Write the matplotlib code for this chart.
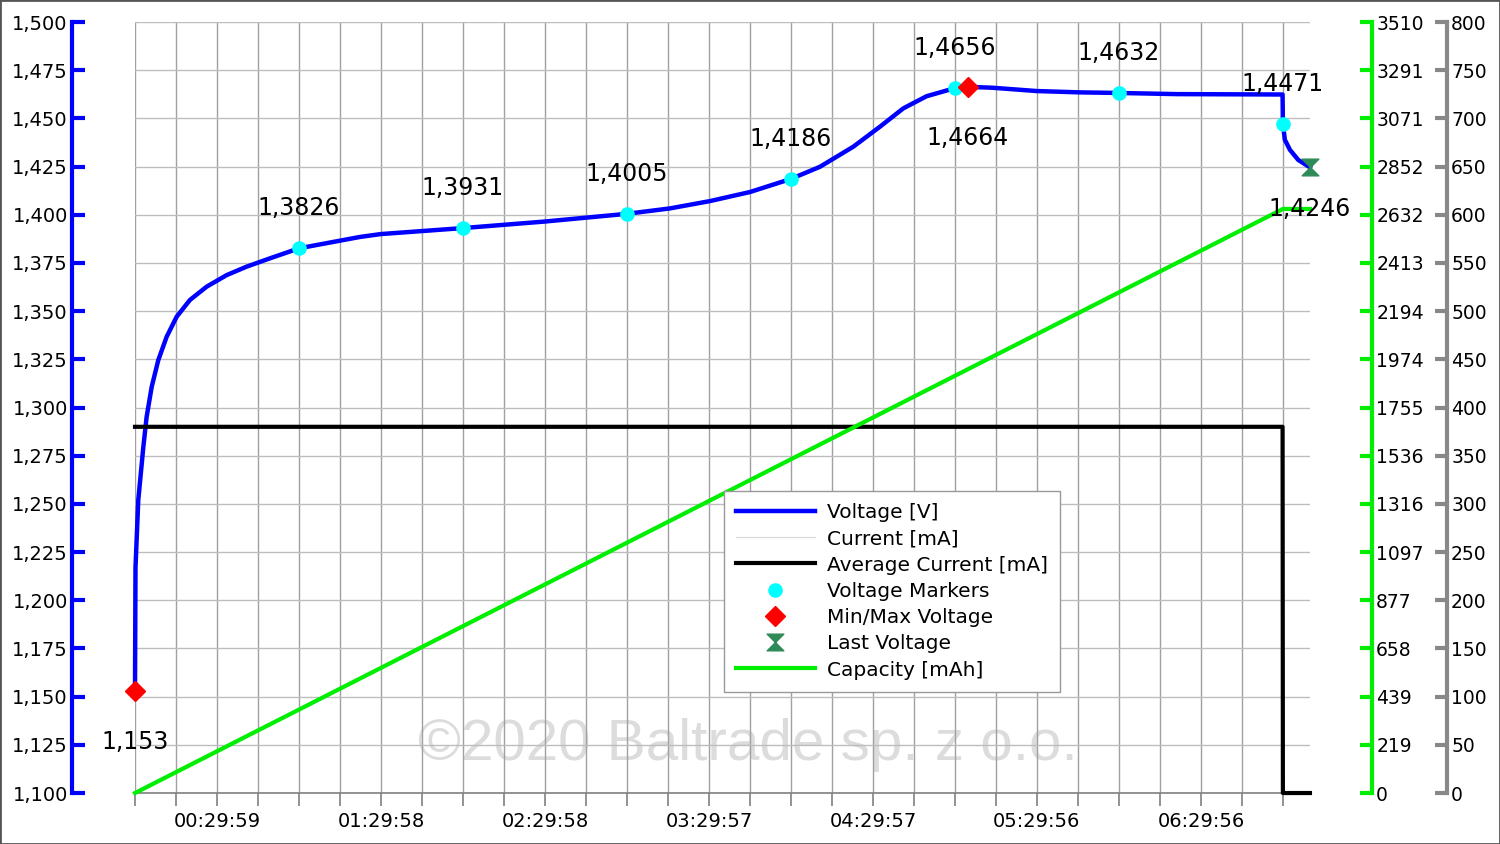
import matplotlib
matplotlib.use('Agg')
import matplotlib.pyplot as plt
import matplotlib.ticker as mticker
from matplotlib.path import Path
from matplotlib.patches import Rectangle
import numpy as np

# time in hours since start
volt_t = [0, 0.003, 0.02, 0.051, 0.071, 0.102, 0.142, 0.193, 0.254, 0.335, 0.437, 0.559, 0.681,
          0.823, 1.0, 1.372, 1.5, 2.0, 2.5, 3.0, 3.262, 3.506, 3.75, 4.0, 4.177, 4.38, 4.543,
          4.685, 4.827, 4.996, 5.079, 5.23, 5.498, 5.762, 6.0, 6.352, 6.998, 7.0, 7.012, 7.043,
          7.093, 7.165]
volts = [1.153, 1.217, 1.252, 1.2797, 1.2952, 1.3108, 1.3246, 1.3367, 1.3471, 1.3558, 1.3627,
         1.3687, 1.3731, 1.3774, 1.3826, 1.3885, 1.3900, 1.3931, 1.3965, 1.4005, 1.4033, 1.4071,
         1.4118, 1.4186, 1.4249, 1.4353, 1.4457, 1.4552, 1.4615, 1.4656, 1.4664, 1.4659, 1.4642,
         1.4635, 1.4632, 1.4626, 1.4624, 1.4471, 1.4389, 1.4337, 1.4285, 1.4246]

cur_t = [0, 6.998, 7.0, 7.165]
current = [380, 380, 0, 0]
avg_current = [380, 380, 0, 0]

cap_t = [0, 7.0, 7.165]
capacity = [0, 2659, 2659]

marker_t = [1, 2, 3, 4, 5, 6, 7]
marker_v = [1.3826, 1.3931, 1.4005, 1.4186, 1.4656, 1.4632, 1.4471]
minmax_t = [0, 5.079]
minmax_v = [1.153, 1.4664]
minmax_txt = ['1,153', '1,4664']
last_t = 7.165
last_v = 1.4246

label_times = [0.5, 1.5, 2.5, 3.5, 4.5, 5.5, 6.5]
time_labels = ['00:29:59', '01:29:58', '02:29:58', '03:29:57', '04:29:57', '05:29:56', '06:29:56']
grid_times = np.arange(0, 7.01, 0.25)

volt_ticks = np.linspace(1.1, 1.5, 17)
cap_ticks = np.linspace(0, 3510, 17)
cap_labels = ['0', '219', '439', '658', '877', '1097', '1316', '1536', '1755', '1974',
              '2194', '2413', '2632', '2852', '3071', '3291', '3510']
cur_ticks = np.arange(0, 801, 50)

BLUE = '#0000ff'
GREEN = '#00ee00'
GRAY = '#888888'

fig = plt.figure(figsize=(15, 8.44), dpi=100)
ax = fig.add_axes([0.09, 0.0604, 0.7833, 0.9135])
ax_cur = ax.twinx()
ax_cap = ax.twinx()

# voltage axis
ax.set_xlim(0, 7.165)
ax.set_ylim(1.1, 1.5)
ax.set_yticks(volt_ticks)
ax.yaxis.set_major_formatter(mticker.FuncFormatter(lambda v, p: f'{v:.3f}'.replace('.', ',')))
ax.set_xticks(label_times)
ax.set_xticklabels(time_labels)
ax.set_xticks(grid_times, minor=True)
ax.grid(True, axis='x', which='both', color='#a0a0a0', lw=1)
ax.grid(True, axis='y', which='major', color='#bdbdbd', lw=1)
ax.spines['top'].set_visible(False)
ax.spines['right'].set_visible(False)
ax.spines['left'].set_position(('axes', -0.0536))
ax.spines['left'].set_color(BLUE)
ax.spines['left'].set_linewidth(3)
ax.spines['bottom'].set_color('#808080')
ax.spines['bottom'].set_linewidth(1.2)
ax.tick_params(axis='y', direction='in', length=9, width=3, color=BLUE, labelsize=14, pad=3)
ax.tick_params(axis='x', which='both', direction='out', length=9, width=1.2, color='#808080',
               labelsize=14, pad=5)

for a, pos, col, ticks in [(ax_cur, 1.1166, GRAY, cur_ticks), (ax_cap, 1.0528, GREEN, cap_ticks)]:
    for s in ['left', 'top', 'bottom']:
        a.spines[s].set_visible(False)
    a.spines['right'].set_position(('axes', pos))
    a.spines['right'].set_color(col)
    a.spines['right'].set_linewidth(3)
    a.set_yticks(ticks)
    a.tick_params(axis='y', direction='in', length=9, width=3, color=col, labelsize=13.5, pad=3)

ax_cur.set_ylim(0, 800)
ax_cap.set_ylim(0, 3510)
ax_cap.set_yticklabels(cap_labels)

# watermark
ax.text(0.5217, 0.062, '\u00a92020 Baltrade sp. z o.o.', transform=ax.transAxes,
        ha='center', va='center', fontsize=42, color='#dcdcdc', zorder=0,
        family=['Liberation Sans', 'DejaVu Sans'])

# series
hourglass = Path([(-1, 1), (1, 1), (-1, -1), (1, -1), (-1, 1)],
                 [Path.MOVETO, Path.LINETO, Path.LINETO, Path.LINETO, Path.CLOSEPOLY])

l_volt, = ax.plot(volt_t, volts, color=BLUE, lw=3.2, zorder=3, clip_on=False,
                  solid_joinstyle='round', label='Voltage [V]')
m_volt, = ax.plot(marker_t, marker_v, 'o', color='cyan', ms=9.5, zorder=4, clip_on=False,
                  label='Voltage Markers')
m_mm, = ax.plot(minmax_t, minmax_v, 'D', color='red', ms=10, zorder=5, clip_on=False,
                label='Min/Max Voltage')
m_last, = ax.plot([last_t], [last_v], ls='none', marker=hourglass, color='#2e8b57', ms=12,
                  zorder=5, clip_on=False, label='Last Voltage')

l_cur, = ax_cur.plot(cur_t, current, color='#d8d8d8', lw=0.8, clip_on=False, label='Current [mA]')
l_avg, = ax_cur.plot(cur_t, avg_current, color='black', lw=3, clip_on=False,
                     label='Average Current [mA]')
l_cap, = ax_cap.plot(cap_t, capacity, color=GREEN, lw=3, clip_on=False, label='Capacity [mAh]')

# value labels
for t, v in zip(marker_t, marker_v):
    ax_cap.annotate(f'{v:.4f}'.replace('.', ','), xy=(t, v), xycoords=ax.transData,
                    xytext=(0, 40), textcoords='offset pixels', ha='center', va='center',
                    fontsize=17, annotation_clip=False)
for t, v, s in zip(minmax_t, minmax_v, minmax_txt):
    ax_cap.annotate(s, xy=(t, v), xycoords=ax.transData, xytext=(0, -51),
                    textcoords='offset pixels', ha='center', va='center', fontsize=17,
                    annotation_clip=False)
ax_cap.annotate(f'{last_v:.4f}'.replace('.', ','), xy=(last_t, last_v), xycoords=ax.transData,
                xytext=(0, -42), textcoords='offset pixels', ha='center', va='center',
                fontsize=17, annotation_clip=False)

handles = [l_volt, l_cur, l_avg, m_volt, m_mm, m_last, l_cap]
leg = ax_cap.legend(handles, [h.get_label() for h in handles], loc='lower left',
                    bbox_to_anchor=(0.501, 0.131), borderaxespad=0, fontsize=14.5,
                    handlelength=3.9, handletextpad=0.6, labelspacing=0.36, fancybox=False,
                    edgecolor='#999999', framealpha=1, borderpad=0.62)
leg.get_frame().set_linewidth(1)
leg.set_zorder(10)

fig.add_artist(Rectangle((0, 0), 1, 1, transform=fig.transFigure, fill=False,
                         edgecolor='#555555', lw=2))

fig.savefig('out.png', dpi=100, facecolor='white')
